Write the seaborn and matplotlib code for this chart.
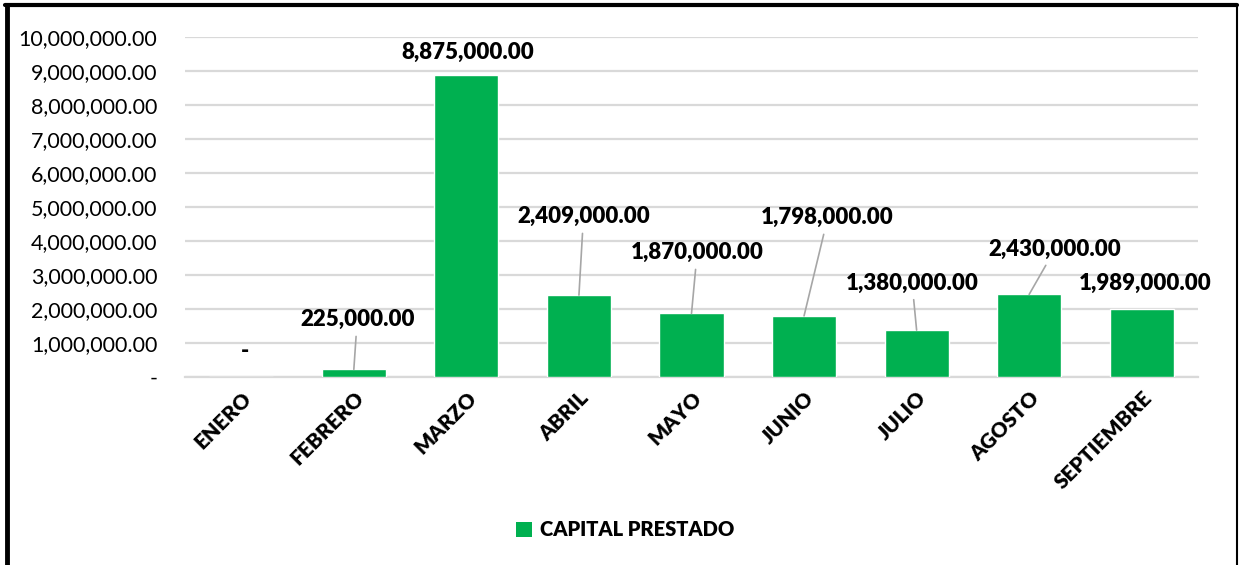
import matplotlib
matplotlib.use("Agg")
import matplotlib.pyplot as plt
import seaborn as sns
import pandas as pd
from matplotlib.patches import Rectangle
from matplotlib.lines import Line2D

# ---- data ----
months = ["ENERO", "FEBRERO", "MARZO", "ABRIL", "MAYO", "JUNIO", "JULIO", "AGOSTO", "SEPTIEMBRE"]
capital = [0, 225000, 8875000, 2409000, 1870000, 1798000, 1380000, 2430000, 1989000]
series_name = "CAPITAL PRESTADO"
y_ticks = [0, 1e6, 2e6, 3e6, 4e6, 5e6, 6e6, 7e6, 8e6, 9e6, 10e6]

# label placement (data units: category offset, y) and whether a leader line is drawn
label_dx = [0.03, 0.03, 0.01, 0.04, 0.05, 0.21, -0.04, 0.23, 0.03]
label_y = [0.74e6, 1.68e6, 9.56e6, 4.71e6, 3.65e6, 4.68e6, 2.76e6, 3.76e6, 2.76e6]
leader = [False, True, False, True, True, True, True, True, False]

GREEN = "#00B050"
GRID = "#d9d9d9"
FONT = ["Lato", "DejaVu Sans"]
BOLD = "heavy"

sns.set_theme(style="white")
plt.rcParams["font.family"] = FONT

fig = plt.figure(figsize=(12.41, 5.65), dpi=100)
ax = fig.add_axes([185 / 1241, 1 - 377 / 565, (1198 - 185) / 1241, (377 - 37) / 565])

df = pd.DataFrame({"month": months, "capital": capital})
sns.barplot(data=df, x="month", y="capital", color=GREEN, saturation=1, width=0.57, ax=ax, zorder=3)

ax.set_ylim(0, 10e6)
ax.set_xlim(-0.5, len(months) - 0.5)
ax.set_yticks(y_ticks)
ax.set_yticklabels(["-" if v == 0 else f"{v:,.2f}" for v in y_ticks], fontsize=15.5, color="#000000")
ax.tick_params(axis="y", length=0, pad=20)
ax.tick_params(axis="x", length=0, pad=8)
ax.set_xticks(range(len(months)))
ax.set_xticklabels(months, rotation=45, ha="right", rotation_mode="anchor",
                   fontsize=15, fontweight=BOLD, color="#000000")
ax.set_xlabel("")
ax.set_ylabel("")
ax.yaxis.grid(True, color=GRID, linewidth=1.6, zorder=0)
ax.set_axisbelow(True)
for s in ["top", "right", "left"]:
    ax.spines[s].set_visible(False)
ax.spines["bottom"].set_color(GRID)
ax.spines["bottom"].set_linewidth(1.6)

for i, v in enumerate(capital):
    txt = "-" if v == 0 else f"{v:,.2f}"
    if leader[i]:
        ax.annotate(txt, xy=(i, v), xytext=(i + label_dx[i], label_y[i]),
                    ha="center", va="center", fontsize=16, fontweight=BOLD, color="#000000",
                    arrowprops=dict(arrowstyle="-", color="#a6a6a6", lw=1.2, shrinkA=2, shrinkB=0),
                    zorder=4)
    else:
        ax.text(i + label_dx[i], label_y[i], txt, ha="center", va="center",
                fontsize=16, fontweight=BOLD, color="#000000", zorder=4)

handle = Rectangle((0, 0), 1, 1, facecolor=GREEN, edgecolor="none")
fig.legend([handle], [series_name], loc="center", bbox_to_anchor=(625 / 1241, 1 - 530 / 565),
           frameon=False, prop={"family": FONT, "weight": BOLD, "size": 14.5},
           labelcolor="#000000", handlelength=0.8, handleheight=0.8, handletextpad=0.4)

# figure border (left thick, top, right thin)
fig.add_artist(Line2D([7 / 1241, 7 / 1241], [0, 1 - 5 / 565], color="black", lw=3.5, transform=fig.transFigure))
fig.add_artist(Line2D([5 / 1241, 1237 / 1241], [1 - 5 / 565, 1 - 5 / 565], color="black", lw=3, transform=fig.transFigure))
fig.add_artist(Line2D([1237 / 1241, 1237 / 1241], [0, 1 - 5 / 565], color="black", lw=1.5, transform=fig.transFigure))

fig.savefig("out.png", dpi=100)
